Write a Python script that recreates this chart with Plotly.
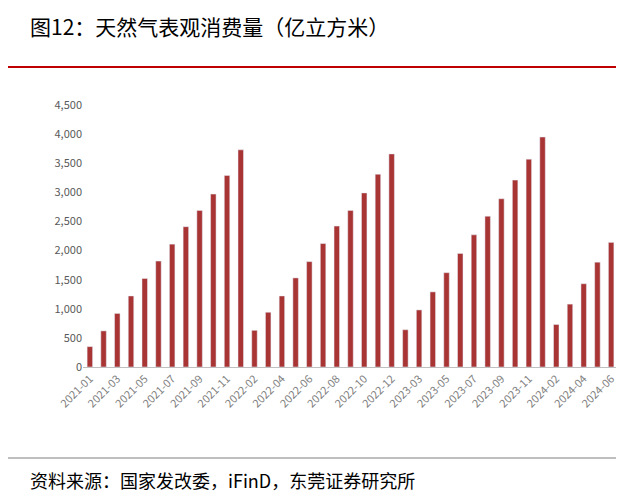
import plotly.graph_objects as go

# 月份（累计值），2022-2024年1-2月合并
months_2021 = [f"2021-{m:02d}" for m in range(1, 13)]
months_2022 = [f"2022-{m:02d}" for m in range(2, 13)]
months_2023 = [f"2023-{m:02d}" for m in range(2, 13)]
months_2024 = [f"2024-{m:02d}" for m in range(2, 7)]
months = months_2021 + months_2022 + months_2023 + months_2024

values_2021 = [350, 620, 920, 1220, 1520, 1820, 2110, 2410, 2690, 2970, 3290, 3730]
values_2022 = [630, 940, 1220, 1530, 1810, 2120, 2420, 2690, 2990, 3310, 3660]
values_2023 = [640, 980, 1290, 1620, 1950, 2270, 2590, 2890, 3210, 3570, 3950]
values_2024 = [730, 1080, 1430, 1800, 2140]
values = values_2021 + values_2022 + values_2023 + values_2024

tick_labels = months[::2]

fig = go.Figure(go.Bar(x=months, y=values, marker_color="#a83434", width=0.4))

# page renders about 8px lower than the target, so pull everything up
W, L, R, T, B = 624, 75, 14, 97, 141
ph = 500 - T - B
pw = W - L - R
py = lambda p: (500 - B - (p - 8)) / ph
px0, px1 = -L / pw, 1 + R / pw

fig.update_layout(
    width=W, height=500, margin=dict(l=L, r=R, t=T, b=B, autoexpand=False),
    plot_bgcolor="white", paper_bgcolor="white", showlegend=False,
    font=dict(family="Noto Sans CJK SC", color="#595959", size=11),
    xaxis=dict(type="category", tickvals=tick_labels, ticktext=tick_labels,
               tickangle=-45, showline=True, linecolor="#bfbfbf", ticks="",
               automargin=False, tickfont=dict(size=11, color="#7f7f7f")),
    yaxis=dict(range=[0, 4500], dtick=500, tickformat=",", showgrid=False,
               automargin=False, showline=False, ticks="",
               tickfont=dict(size=11, color="#595959")),
    shapes=[
        dict(type="line", xref="paper", yref="paper", x0=px0, x1=px1,
             y0=py(67), y1=py(67), line=dict(color="#c00000", width=2)),
        dict(type="line", xref="paper", yref="paper", x0=px0, x1=px1,
             y0=py(458), y1=py(458), line=dict(color="#7f7f7f", width=1)),
    ],
    annotations=[
        dict(text="图12：天然气表观消费量（亿立方米）", xref="paper", yref="paper",
             x=px0 + 20 / pw, y=py(26), xanchor="left", yanchor="middle",
             showarrow=False, font=dict(size=21, color="#000000")),
        dict(text="资料来源：国家发改委，iFinD，东莞证券研究所", xref="paper", yref="paper",
             x=px0 + 20 / pw, y=py(480), xanchor="left", yanchor="middle",
             showarrow=False, font=dict(size=18, color="#000000")),
    ],
)

fig.write_html("out.html")
